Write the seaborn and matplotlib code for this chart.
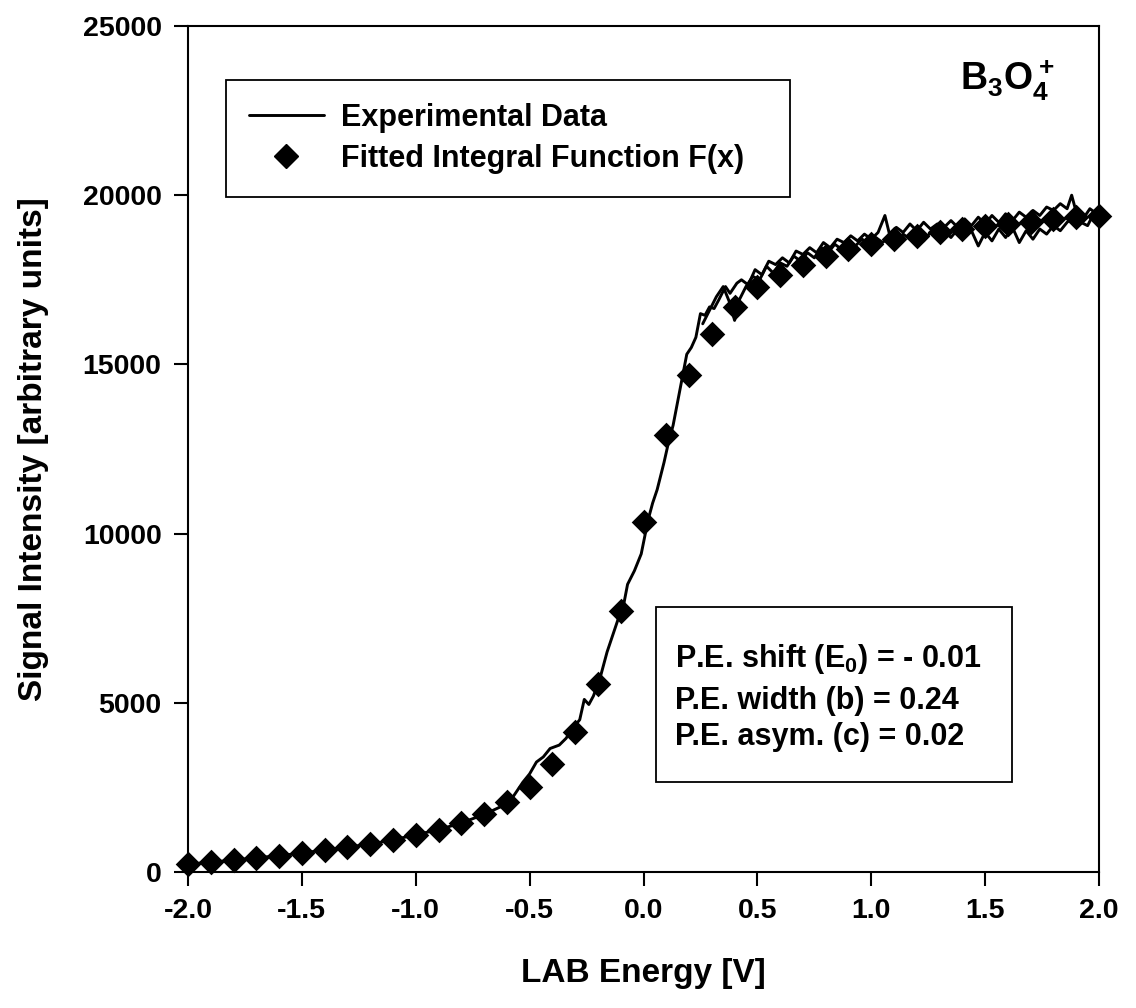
import numpy as np
import pandas as pd
import matplotlib
matplotlib.use("Agg")
import matplotlib.pyplot as plt
import seaborn as sns
from matplotlib.lines import Line2D
from matplotlib.patches import Rectangle

# ---------------- data ----------------
fit_energy = [-2.0, -1.9, -1.8, -1.7, -1.6, -1.5, -1.4, -1.3, -1.2, -1.1,
              -1.0, -0.9, -0.8, -0.7, -0.6, -0.5, -0.4, -0.3, -0.2, -0.1,
              0.0, 0.1, 0.2, 0.3, 0.4, 0.5, 0.6, 0.7, 0.8, 0.9,
              1.0, 1.1, 1.2, 1.3, 1.4, 1.5, 1.6, 1.7, 1.8, 1.9, 2.0]
fit_signal = [250, 300, 360, 420, 480, 560, 650, 740, 840, 960,
              1080, 1240, 1440, 1710, 2060, 2500, 3180, 4150, 5560, 7700,
              10350, 12900, 14680, 15890, 16690, 17280, 17650, 17950, 18200, 18400,
              18570, 18700, 18800, 18900, 19000, 19080, 19150, 19220, 19290, 19350, 19400]

scan1_energy = [-2.00, -1.90, -1.80, -1.70, -1.60, -1.50, -1.40, -1.30, -1.20, -1.10,
                -1.00, -0.90, -0.80, -0.70, -0.62, -0.57, -0.53, -0.50, -0.47, -0.44,
                -0.41, -0.37, -0.34, -0.31, -0.28, -0.26, -0.24, -0.22, -0.19, -0.16,
                -0.14, -0.11, -0.09, -0.07, -0.04, -0.01, 0.02, 0.04, 0.06, 0.09,
                0.11, 0.13, 0.15, 0.17, 0.19, 0.21, 0.23, 0.25, 0.27, 0.29,
                0.31, 0.33, 0.36, 0.38, 0.41, 0.43, 0.46, 0.49, 0.52, 0.55,
                0.58, 0.61, 0.64, 0.67, 0.70, 0.73, 0.76, 0.79, 0.82, 0.85,
                0.88, 0.91, 0.94, 0.97, 1.00, 1.03, 1.06, 1.08, 1.11, 1.14,
                1.17, 1.20, 1.23, 1.26, 1.29, 1.32, 1.35, 1.38, 1.41, 1.44,
                1.47, 1.50, 1.53, 1.56, 1.59, 1.62, 1.65, 1.68, 1.71, 1.74,
                1.77, 1.80, 1.83, 1.86, 1.88, 1.90, 1.93, 1.96, 2.00]
scan1_signal = [230, 290, 350, 420, 480, 560, 650, 740, 820, 950,
                1100, 1250, 1450, 1700, 1950, 2250, 2650, 2900, 3250, 3400,
                3650, 3750, 3950, 4250, 4500, 5100, 4950, 5200, 5750, 6500,
                6900, 7500, 7800, 8500, 8900, 9400, 10400, 10900, 11300, 12100,
                12700, 13200, 13900, 14600, 15300, 15500, 15800, 16500, 16450, 16700,
                16650, 16900, 17300, 17100, 17400, 17500, 17350, 17800, 17650, 18050,
                17950, 18150, 18000, 18350, 18250, 18450, 18300, 18600, 18450, 18700,
                18600, 18800, 18650, 18850, 18700, 18900, 19400, 18850, 19050, 18900,
                19150, 18950, 19200, 19000, 19150, 19050, 19250, 19050, 19300, 19100,
                19350, 19150, 19400, 19200, 19450, 19250, 19500, 19350, 19550, 19400,
                19650, 19550, 19750, 19600, 20000, 19500, 19300, 19600, 19400]

scan2_energy = [0.26, 0.29, 0.32, 0.35, 0.38, 0.40, 0.42, 0.45, 0.48, 0.51,
                0.54, 0.57, 0.60, 0.63, 0.66, 0.69, 0.72, 0.75, 0.78, 0.81,
                0.84, 0.87, 0.90, 0.93, 0.96, 0.99, 1.02, 1.05, 1.08, 1.11,
                1.14, 1.17, 1.20, 1.23, 1.26, 1.29, 1.32, 1.35, 1.38, 1.41,
                1.44, 1.47, 1.50, 1.53, 1.56, 1.59, 1.62, 1.65, 1.68, 1.71,
                1.74, 1.77, 1.80, 1.83, 1.86, 1.89, 1.92, 1.95, 1.98]
scan2_signal = [16200, 16600, 17000, 17300, 16800, 16300, 16900, 17300, 17600, 17500,
                17900, 17700, 18000, 17900, 18200, 18050, 18300, 18150, 18450, 18300,
                18550, 18400, 18650, 18500, 18700, 18550, 18750, 18600, 18800, 18650,
                18850, 18700, 18900, 18650, 18900, 18700, 18950, 18750, 19000, 18800,
                18950, 18500, 18900, 18650, 19000, 18750, 19050, 18600, 18950, 18700,
                19000, 18850, 19100, 18950, 19200, 19350, 19200, 19100, 19500]

x_ticks = [-2.0, -1.5, -1.0, -0.5, 0.0, 0.5, 1.0, 1.5, 2.0]
y_ticks = [0, 5000, 10000, 15000, 20000, 25000]

exp_df = pd.concat([
    pd.DataFrame({"E": scan1_energy, "I": scan1_signal, "scan": 1}),
    pd.DataFrame({"E": scan2_energy, "I": scan2_signal, "scan": 2}),
], ignore_index=True)
fit_df = pd.DataFrame({"E": fit_energy, "I": fit_signal})

# ---------------- style ----------------
sns.set_theme(style="ticks")
plt.rcParams["font.family"] = ["Liberation Sans", "DejaVu Sans"]
plt.rcParams["font.weight"] = "bold"
plt.rcParams["axes.labelweight"] = "bold"
plt.rcParams["mathtext.default"] = "regular"
plt.rcParams["axes.unicode_minus"] = False
for key in ["text.color", "axes.labelcolor", "xtick.color", "ytick.color", "axes.edgecolor"]:
    plt.rcParams[key] = "black"

fig = plt.figure(figsize=(11.36, 10.08), dpi=100)
ax = fig.add_axes([188 / 1136, 136 / 1008, 911 / 1136, 846 / 1008])

sns.lineplot(data=exp_df, x="E", y="I", units="scan", estimator=None, sort=False,
             color="black", linewidth=2.1, ax=ax, legend=False, zorder=2)
sns.scatterplot(data=fit_df, x="E", y="I", marker="D", s=170, color="black",
                edgecolor="black", linewidth=0, ax=ax, legend=False, zorder=3,
                clip_on=False)

ax.set_xlim(-2.0, 2.0)
ax.set_ylim(0, 25000)
ax.set_xticks(x_ticks)
ax.set_xticklabels([f"{v:.1f}" for v in x_ticks])
ax.set_yticks(y_ticks)
ax.set_yticklabels([str(v) for v in y_ticks])

for sp in ax.spines.values():
    sp.set_linewidth(1.5)
    sp.set_color("black")
ax.tick_params(direction="out", length=10, width=1.5, colors="black",
               labelsize=20.5, pad=9)
for lab in ax.get_xticklabels() + ax.get_yticklabels():
    lab.set_fontweight("bold")

ax.set_xlabel("LAB Energy [V]", fontsize=24, fontweight="bold", labelpad=24)
ax.set_ylabel("Signal Intensity [arbitrary units]", fontsize=24, fontweight="bold", labelpad=24)

# legend
handles = [Line2D([], [], color="black", lw=2.1),
           Line2D([], [], ls="", marker="D", ms=12.5, color="black")]
labels = ["Experimental Data", "Fitted Integral Function F(x)"]
leg = ax.legend(handles, labels, loc="upper left",
                bbox_to_anchor=(0.0417, 0.8, 0.619, 0.136), mode="expand",
                borderaxespad=0, frameon=True, fancybox=False, framealpha=1,
                edgecolor="black", prop={"size": 22, "weight": "bold"},
                handlelength=2.45, handletextpad=0.55, borderpad=0.75,
                labelspacing=0.35)
leg.get_frame().set_linewidth(1.3)

# parameter box
ax.add_patch(Rectangle((0.514, 0.1064), 0.9045 - 0.514, 0.3132 - 0.1064,
                       transform=ax.transAxes, fill=True, facecolor="white",
                       edgecolor="black", linewidth=1.3, zorder=4))
param_lines = ["P.E. shift (E$_0$) = - 0.01",
               "P.E. width (b) = 0.24",
               "P.E. asym. (c) = 0.02"]
for txt, yb in zip(param_lines, [0.2423, 0.1927, 0.1501]):
    ax.text(0.5346, yb, txt, transform=ax.transAxes, fontsize=22,
            fontweight="bold", va="baseline", ha="left", zorder=5)

ax.text(0.8474, 0.924, "B$_3$O$_4^+$", transform=ax.transAxes, fontsize=27,
        fontweight="bold", va="baseline", ha="left", zorder=5)

fig.savefig("out.png", dpi=100)
